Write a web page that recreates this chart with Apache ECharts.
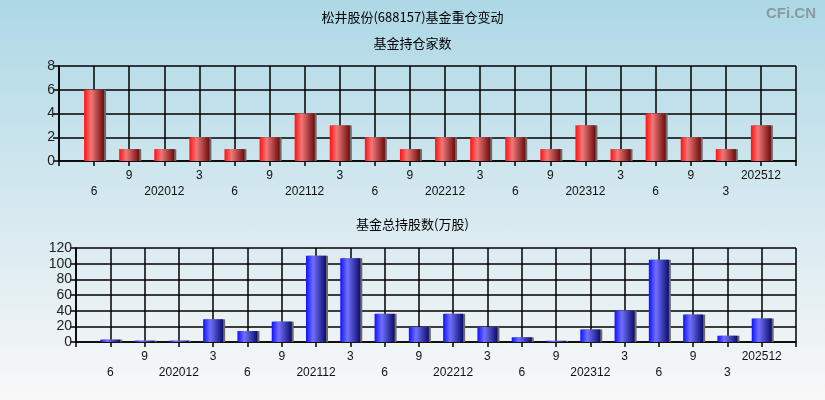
<!DOCTYPE html>
<html><head><meta charset="utf-8">
<script src="https://cdn.jsdelivr.net/npm/echarts@6/dist/echarts.min.js"></script>
<style>html,body{margin:0;padding:0;}#c{width:825px;height:400px;background:linear-gradient(to bottom,#add8e6 0%,#d4e8ef 50%,#f8f8f8 100%);}</style>
</head><body><div id="c"></div>
<script>
var categories = ['6','9','202012','3','6','9','202112','3','6','9','202212','3','6','9','202312','3','6','9','3','202512'];
var fundCount = [6,1,1,2,1,2,4,3,2,1,2,2,2,1,3,1,4,2,1,3];
var fundShares = [3,1.7,1.7,29,14,26,110,107,36,19,36,19,6,1.5,16,40,105,35,8,30];
var yTicksTop = {min:0,max:8,interval:2};
var yTicksBottom = {min:0,max:120,interval:20};

var cats = [''].concat(categories).concat(['']);
function pad(a){return [null].concat(a).concat([null]);}
function grad(c0,c1,c2){
  return new echarts.graphic.LinearGradient(0,0,1,0,[
    {offset:0,color:c0},{offset:0.35,color:c1},{offset:1,color:c2}]);
}
var font = 'Liberation Sans, Arial, sans-serif';
var cjk = '"Noto Sans CJK SC", sans-serif';
function xAx(gi){
  return {type:'category',gridIndex:gi,data:cats,boundaryGap:false,
    axisLine:{lineStyle:{color:'#000',width:1.5}},
    axisTick:{show:true,interval:0,length:5,lineStyle:{color:'#000',width:1.5}},
    splitLine:{show:true,interval:0,lineStyle:{color:'#000',width:1.5}},
    axisLabel:{interval:0,margin:7,color:'#111',fontSize:12,fontFamily:font,lineHeight:16,
      formatter:function(v,i){ if(!v) return ''; return (i%2===1)?('\n'+v):v; }}};
}
function yAx(gi,t){
  return {type:'value',gridIndex:gi,min:t.min,max:t.max,interval:t.interval,
    axisLine:{show:true,lineStyle:{color:'#000',width:1.5}},
    axisTick:{show:true,length:6,lineStyle:{color:'#000',width:1.5}},
    splitLine:{show:true,lineStyle:{color:'#000',width:1.5}},
    axisLabel:{color:'#222',fontSize:14,fontFamily:font,margin:4}};
}
var chart = echarts.init(document.getElementById('c'),null,{renderer:'canvas'});
chart.setOption({
  animation:false,
  backgroundColor:'transparent',
  title:[
    {text:'松井股份(688157)基金重仓变动',left:'center',top:6,textStyle:{fontSize:13,fontWeight:'normal',color:'#000',fontFamily:cjk}},
    {text:'基金持仓家数',left:'center',top:32,textStyle:{fontSize:13,fontWeight:'normal',color:'#000',fontFamily:cjk}},
    {text:'基金总持股数(万股)',left:'center',top:213,textStyle:{fontSize:13,fontWeight:'normal',color:'#000',fontFamily:cjk}},
    {text:'CFi.CN',right:4,top:1,textStyle:{fontSize:15,fontWeight:'bold',color:'#8a9aa0',fontFamily:font}}
  ],
  grid:[
    {left:59,right:29,top:66,height:95},
    {left:76,right:29,top:248,height:94}
  ],
  xAxis:[xAx(0),xAx(1)],
  yAxis:[yAx(0,yTicksTop),yAx(1,yTicksBottom)],
  series:[
    {type:'bar',xAxisIndex:0,yAxisIndex:0,data:pad(fundCount),barWidth:20,
      itemStyle:{color:grad('#ff1010','#f07878','#6e0c0c'),shadowColor:'#6a6a6a',shadowOffsetX:2,shadowBlur:0}},
    {type:'bar',xAxisIndex:1,yAxisIndex:1,data:pad(fundShares),barWidth:20,
      itemStyle:{color:grad('#1010ff','#7070ff','#0c0c6e'),shadowColor:'#6a6a6a',shadowOffsetX:2,shadowBlur:0}}
  ]
});
</script></body></html>
